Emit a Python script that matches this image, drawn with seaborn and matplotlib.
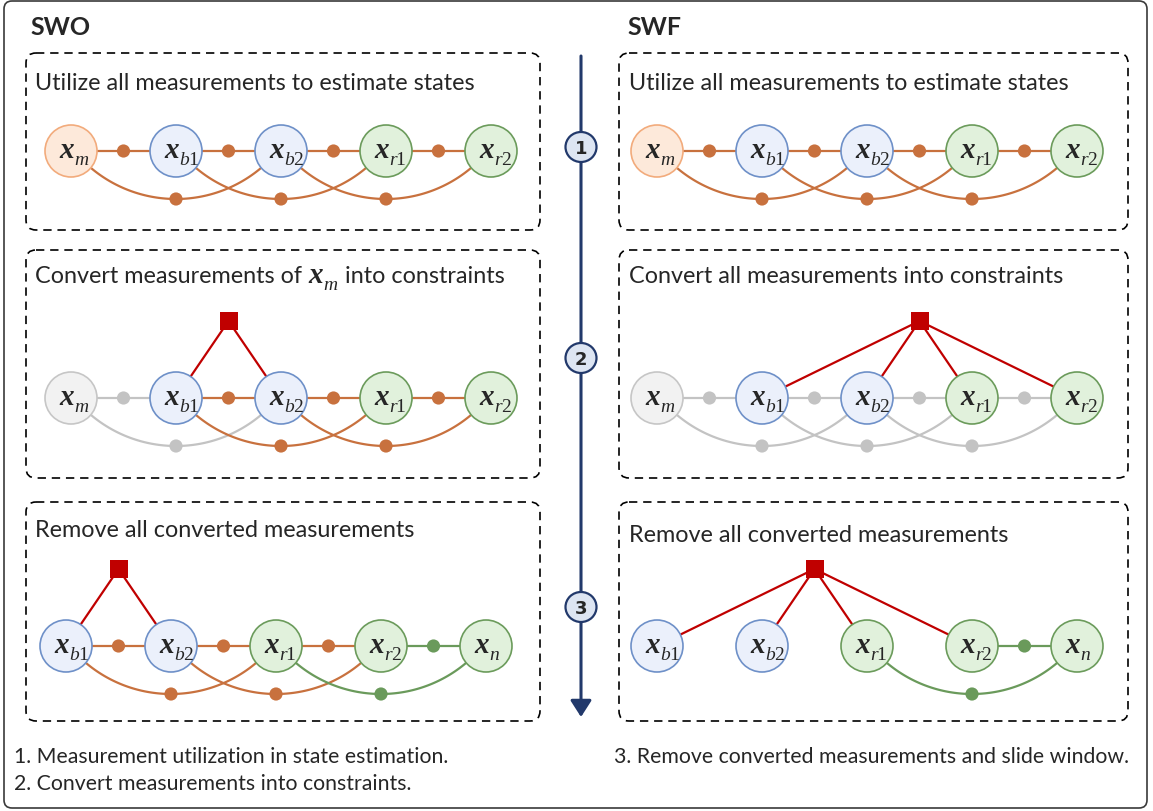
import numpy as np
import pandas as pd
import matplotlib.pyplot as plt
from matplotlib.patches import Circle, Ellipse, FancyBboxPatch
import seaborn as sns

# ---------------- content ----------------
headers = ['SWO', 'SWF']
swo_titles = ['Utilize all measurements to estimate states',
              'Convert measurements of $x_m$ into constraints',
              'Remove all converted measurements']
swf_titles = ['Utilize all measurements to estimate states',
              'Convert all measurements into constraints',
              'Remove all converted measurements']
notes_left = ['1. Measurement utilization in state estimation.',
              '2. Convert measurements into constraints.']
notes_right = ['3. Remove converted measurements and slide window.']
steps = ['1', '2', '3']

full_nodes = ['m', 'b1', 'b2', 'r1', 'r2']
slid_nodes = ['b1', 'b2', 'r1', 'r2', 'n']
node_kind = {'m': 'orange', 'b1': 'blue', 'b2': 'blue',
             'r1': 'green', 'r2': 'green', 'n': 'green'}

# per stage: links join node i and i+1, arcs join node i and i+2 (None = removed)
swo_nodes = [full_nodes, full_nodes, slid_nodes]
swo_gray = [[], ['m'], []]
swo_links = [['orange'] * 4, ['gray', 'orange', 'orange', 'orange'],
             ['orange', 'orange', 'orange', 'green']]
swo_arcs = [['orange'] * 3, ['gray', 'orange', 'orange'], ['orange', 'orange', 'green']]
swo_constraint = [[], ['b1', 'b2'], ['b1', 'b2']]

swf_nodes = [full_nodes, full_nodes, slid_nodes]
swf_gray = [[], ['m'], []]
swf_links = [['orange'] * 4, ['gray'] * 4, [None, None, None, 'green']]
swf_arcs = [['orange'] * 3, ['gray'] * 3, [None, None, 'green']]
swf_constraint = [[], ['b1', 'b2', 'r1', 'r2'], ['b1', 'b2', 'r1', 'r2']]

# ---------------- style / layout ----------------
node_style = {'orange': ('#fde9da', '#f2ab7c'), 'blue': ('#ebf0fb', '#6e90c8'),
              'green': ('#e1f1dc', '#6b9b5b'), 'gray': ('#f2f2f2', '#c6c6c6')}
link_color = {'orange': '#c8713e', 'green': '#6a9a5b', 'gray': '#c3c3c3'}
red = '#c00000'
navy = '#22396b'

R_NODE = 26
GAP = 105
stage_top = [54, 251, 503]
stage_bot = [231, 479, 722]
node_y = [152, 399, 647]
side_box = [(26, 540), (619, 1128)]
side_x0 = [[71, 71, 66], [657, 657, 657]]
title_x = [35, 629]
title_base = [[90, 283, 537], [90, 283, 542]]
tl_x = 581
step_y = [148, 359, 608]

sns.set_theme(style='white')
plt.rcParams['font.family'] = ['Lato', 'DejaVu Sans']
serif = 'Liberation Serif'
X_FS = 21
SUB_FS = 14

fig = plt.figure(figsize=(11.53, 8.12), dpi=100)
ax = fig.add_axes([0, 0, 1, 1])
ax.set_xlim(0, 1153)
ax.set_ylim(812, 0)
ren = fig.canvas.get_renderer()


def text_w(s, **kw):
    t = ax.text(0, 0, s, **kw)
    w = t.get_window_extent(renderer=ren).width
    t.remove()
    return w


def fit(s, target, **kw):
    return 20 * target / text_w(s, fontsize=20, **kw)


title_fs = fit(swo_titles[0], 440)
note_fs = fit(notes_left[0], 433)
head_fs = fit('SWO', 60, weight='bold')


def node_label(cx, cy, sub):
    ax.text(cx + 3, cy + 6, 'x', ha='right', va='baseline', family=serif,
            style='italic', weight='bold', fontsize=X_FS, zorder=6)
    letter, digit = sub[0], sub[1:]
    px = cx + 3
    ax.text(px, cy + 13, letter, ha='left', va='baseline', family=serif,
            style='italic', fontsize=SUB_FS, zorder=6)
    if digit:
        px += text_w(letter, family=serif, style='italic', fontsize=SUB_FS) - 1
        ax.text(px, cy + 13, digit, ha='left', va='baseline', family=serif,
                fontsize=SUB_FS, zorder=6)


def arc_xy(xa, xb, xm, y):
    h = (xb - xa - 40) / 2
    s = 31
    rad = (h ** 2 + s ** 2) / (2 * s)
    yb = y + 48
    phi0 = np.arcsin(h / rad)
    phi = np.linspace(-phi0, phi0, 80)
    return xm + rad * np.sin(phi), (yb - rad) + rad * np.cos(phi)


dots = []
squares = []

# outer frame
ax.add_patch(FancyBboxPatch((4, 2), 1143, 807, boxstyle='round,pad=0,rounding_size=8',
                            fill=False, ec='#3a3a3a', lw=1.2, zorder=0))

for side in range(2):
    ax.text(30 if side == 0 else 627, 35, headers[side], fontsize=head_fs,
            weight='bold', ha='left', va='baseline')
    nodes_s = [swo_nodes, swf_nodes][side]
    gray_s = [swo_gray, swf_gray][side]
    links_s = [swo_links, swf_links][side]
    arcs_s = [swo_arcs, swf_arcs][side]
    cons_s = [swo_constraint, swf_constraint][side]
    titles = [swo_titles, swf_titles][side]
    x0b, x1b = side_box[side]
    for st in range(3):
        ax.add_patch(FancyBboxPatch((x0b, stage_top[st]), x1b - x0b,
                                    stage_bot[st] - stage_top[st],
                                    boxstyle='round,pad=0,rounding_size=10', fill=False,
                                    ec='black', lw=1.2, ls=(0, (5, 3.5)), zorder=1))
        # title
        tx, tb = title_x[side], title_base[side][st]
        title = titles[st]
        if '$x_m$' in title:
            a, b = title.split(' $x_m$ ')
            ax.text(tx, tb, a, fontsize=title_fs, ha='left', va='baseline')
            px = tx + text_w(a, fontsize=title_fs) + 6
            ax.text(px, tb, 'x', family=serif, style='italic', weight='bold',
                    fontsize=X_FS, ha='left', va='baseline')
            px += text_w('x', family=serif, style='italic', weight='bold', fontsize=X_FS) + 1
            ax.text(px, tb + 7, 'm', family=serif, style='italic', fontsize=SUB_FS,
                    ha='left', va='baseline')
            px += text_w('m', family=serif, style='italic', fontsize=SUB_FS) + 7
            ax.text(px, tb, b, fontsize=title_fs, ha='left', va='baseline')
        else:
            ax.text(tx, tb, title, fontsize=title_fs, ha='left', va='baseline')

        names = nodes_s[st]
        y = node_y[st]
        xs = [side_x0[side][st] + GAP * i for i in range(len(names))]
        # links
        for i, c in enumerate(links_s[st]):
            if c is None:
                continue
            ax.plot([xs[i], xs[i + 1]], [y, y], color=link_color[c], lw=1.6, zorder=2)
            dots.append(((xs[i] + xs[i + 1]) / 2, y, c))
        for i, c in enumerate(arcs_s[st]):
            if c is None:
                continue
            ax_, ay_ = arc_xy(xs[i], xs[i + 2], xs[i + 1], y)
            ax.plot(ax_, ay_, color=link_color[c], lw=1.6, zorder=2)
            dots.append((xs[i + 1], y + 48, c))
        # constraint factor
        targets = cons_s[st]
        if targets:
            tx_ = [xs[names.index(n)] for n in targets]
            sx, sy = np.mean(tx_), y - 77
            squares.append((sx, sy))
            for nx in tx_:
                d = np.array([nx - sx, y - sy])
                d /= np.linalg.norm(d)
                ax.plot([sx, nx - R_NODE * d[0]], [sy, y - R_NODE * d[1]],
                        color=red, lw=1.6, zorder=2)
        # nodes
        for n, cx in zip(names, xs):
            kind = 'gray' if n in gray_s[st] else node_kind[n]
            fc, ec = node_style[kind]
            ax.add_patch(Circle((cx, y), R_NODE, fc=fc, ec=ec, lw=1.2, zorder=4))
            node_label(cx, y, n)

dot_df = pd.DataFrame(dots, columns=['x', 'y', 'kind'])
sns.scatterplot(data=dot_df, x='x', y='y', hue='kind', palette=link_color, s=90,
                linewidth=0, legend=False, ax=ax, zorder=5)
sq_df = pd.DataFrame(squares, columns=['x', 'y'])
sns.scatterplot(data=sq_df, x='x', y='y', marker='s', color=red, s=170,
                linewidth=0, legend=False, ax=ax, zorder=5)

# timeline
ax.annotate('', xy=(tl_x, 718), xytext=(tl_x, 57),
            arrowprops=dict(arrowstyle='-|>,head_length=0.5,head_width=0.32',
                            color=navy, lw=2.2, shrinkA=0, shrinkB=0, mutation_scale=20),
            zorder=1)
for s_, sy in zip(steps, step_y):
    ax.add_patch(Ellipse((tl_x, sy), 31, 30, fc='#dde5f2', ec=navy, lw=1.6, zorder=3))
    ax.text(tl_x, sy + 1, s_, ha='center', va='center', fontsize=13, weight='bold',
            family='DejaVu Sans', zorder=4)

# notes
for i, n in enumerate(notes_left):
    ax.text(14, 763 + 27 * i, n, fontsize=note_fs, ha='left', va='baseline')
ax.text(614, 763, notes_right[0], fontsize=note_fs, ha='left', va='baseline')

ax.set_xlim(0, 1153)
ax.set_ylim(812, 0)
ax.axis('off')
fig.savefig('out.png', dpi=100)
